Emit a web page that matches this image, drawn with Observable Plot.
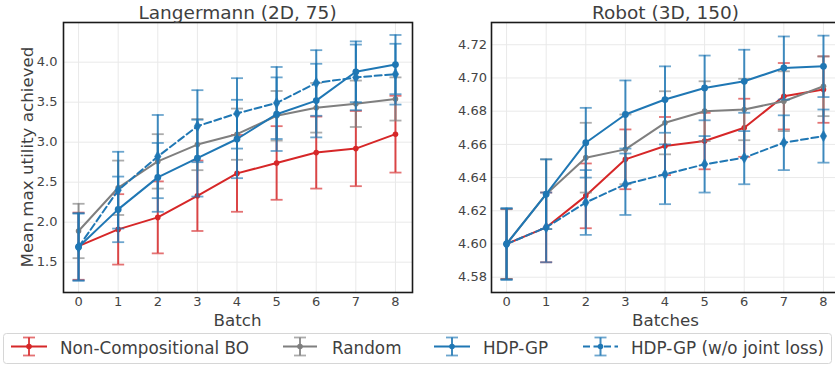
<!DOCTYPE html>
<html>
<head>
<meta charset="utf-8">
<script src="https://cdn.jsdelivr.net/npm/d3@7"></script>
<script src="https://cdn.jsdelivr.net/npm/@observablehq/plot@0.6"></script>
<style>
  html, body { margin: 0; padding: 0; background: #fff; }
  #wrap { position: relative; width: 835px; height: 366px; overflow: hidden; background: #fff; font-family: "DejaVu Sans", sans-serif; }
  #wrap > * { position: absolute; }
</style>
</head>
<body>
<div id="wrap"></div>
<script>
// ---------- data ----------
const batches = [0, 1, 2, 3, 4, 5, 6, 7, 8];

// Langermann (2D, 75)
const langNCBO      = [1.70, 1.91, 2.06, 2.33, 2.61, 2.74, 2.87, 2.92, 3.10];
const langNCBOErr   = [0.42, 0.44, 0.45, 0.44, 0.48, 0.46, 0.45, 0.47, 0.48];
const langRandom    = [1.89, 2.43, 2.76, 2.97, 3.10, 3.33, 3.43, 3.48, 3.54];
const langRandomErr = [0.34, 0.34, 0.34, 0.32, 0.32, 0.31, 0.31, 0.29, 0.27];
const langHDP       = [1.69, 2.16, 2.56, 2.80, 3.04, 3.35, 3.52, 3.88, 3.97];
const langHDPErr    = [0.42, 0.41, 0.43, 0.48, 0.49, 0.46, 0.46, 0.38, 0.37];
const langHDPnj     = [1.69, 2.40, 2.82, 3.20, 3.36, 3.49, 3.74, 3.81, 3.85];
const langHDPnjErr  = [0.42, 0.48, 0.52, 0.45, 0.44, 0.45, 0.41, 0.41, 0.38];
const langYTicks    = [1.5, 2.0, 2.5, 3.0, 3.5, 4.0];

// Robot (3D, 150)
const robNCBO      = [4.600, 4.610, 4.629, 4.651, 4.659, 4.662, 4.670, 4.689, 4.693];
const robNCBOErr   = [0.021, 0.021, 0.0195, 0.018, 0.0175, 0.017, 0.0175, 0.020, 0.020];
const robRandom    = [4.600, 4.630, 4.652, 4.657, 4.673, 4.680, 4.681, 4.686, 4.695];
const robRandomErr = [0.021, 0.021, 0.021, 0.021, 0.019, 0.018, 0.0185, 0.018, 0.018];
const robHDP       = [4.600, 4.630, 4.661, 4.678, 4.687, 4.694, 4.698, 4.706, 4.707];
const robHDPErr    = [0.0215, 0.021, 0.021, 0.0205, 0.020, 0.0195, 0.019, 0.019, 0.0185];
const robHDPnj     = [4.600, 4.610, 4.625, 4.636, 4.642, 4.648, 4.652, 4.661, 4.665];
const robHDPnjErr  = [0.0215, 0.021, 0.0195, 0.0185, 0.018, 0.017, 0.016, 0.0165, 0.016];
const robYTicks    = [4.58, 4.60, 4.62, 4.64, 4.66, 4.68, 4.70, 4.72];

const seriesNames = ["Non-Compositional BO", "Random", "HDP-GP", "HDP-GP (w/o joint loss)"];
const seriesColors = ["#d62728", "#7f7f7f", "#1f77b4", "#1f77b4"];
const seriesDash = [null, null, null, "7,3.5"];

// ---------- helpers ----------
const capSymbol = { draw(ctx) { ctx.moveTo(-6, 0); ctx.lineTo(6, 0); } };

function table(means, errs) {
  return batches.map((b, i) => ({ x: b, y: means[i], lo: means[i] - errs[i], hi: means[i] + errs[i] }));
}

function seriesMarks(data, k) {
  const c = seriesColors[k];
  const dotOpts = k === 3
    ? { symbol: "diamond", r: 3.4, fill: c, stroke: c, strokeWidth: 0.5 }
    : { r: k === 2 ? 3.4 : 2.8, fill: c };
  return [
    Plot.ruleX(data, { x: "x", y1: "lo", y2: "hi", stroke: c, strokeWidth: 2, strokeOpacity: 0.85 }),
    Plot.dot(data, { x: "x", y: "lo", symbol: capSymbol, r: 6, fill: "none", stroke: c, strokeWidth: 1.8, strokeOpacity: 0.65 }),
    Plot.dot(data, { x: "x", y: "hi", symbol: capSymbol, r: 6, fill: "none", stroke: c, strokeWidth: 1.8, strokeOpacity: 0.65 }),
    Plot.line(data, { x: "x", y: "y", stroke: c, strokeWidth: 2, strokeDasharray: seriesDash[k] }),
    Plot.dot(data, { x: "x", y: "y", ...dotOpts })
  ];
}

function panel({ all, yDomain, yTicks, yFmt, marginLeft, marginRight, width, yPad }) {
  return Plot.plot({
    width, height: 330,
    marginLeft, marginRight, marginTop: 22, marginBottom: 38,
    style: { fontFamily: "DejaVu Sans, sans-serif", fontSize: "13px", color: "#444", background: "transparent", overflow: "visible" },
    x: { domain: [-0.38, 8.43] },
    y: { domain: yDomain },
    marks: [
      Plot.gridX(batches, { stroke: "#e9e9e9", strokeOpacity: 1, strokeWidth: 1 }),
      Plot.gridY(yTicks, { stroke: "#e9e9e9", strokeOpacity: 1, strokeWidth: 1 }),
      Plot.axisX(batches, { tickSize: 0, tickPadding: 4.5, tickFormat: d => String(d), label: null, fontSize: 13 }),
      Plot.axisY(yTicks, { tickSize: 0, tickPadding: yPad, tickFormat: yFmt, label: null, fontSize: 13 }),
      ...all.flatMap((d, k) => seriesMarks(d, k)),
      Plot.frame({ stroke: "#1a1a1a", strokeWidth: 1.6 })
    ]
  });
}

const wrap = document.getElementById("wrap");

const left = panel({
  all: [table(langNCBO, langNCBOErr), table(langRandom, langRandomErr), table(langHDP, langHDPErr), table(langHDPnj, langHDPnjErr)],
  yDomain: [1.121, 4.496], yTicks: langYTicks, yFmt: d3.format(".1f"),
  marginLeft: 63, marginRight: 8, width: 420, yPad: 6
});
left.style.left = "0px"; left.style.top = "0px";
wrap.appendChild(left);

const right = panel({
  all: [table(robNCBO, robNCBOErr), table(robRandom, robRandomErr), table(robHDP, robHDPErr), table(robHDPnj, robHDPnjErr)],
  yDomain: [4.5708, 4.7334], yTicks: robYTicks, yFmt: d3.format(".2f"),
  marginLeft: 71, marginRight: 5, width: 425, yPad: 4.5
});
right.style.left = "420px"; right.style.top = "0px";
wrap.appendChild(right);

// ---------- overlay text & legend ----------
const svg = d3.select(wrap).append("svg")
  .attr("width", 835).attr("height", 366)
  .style("left", "0px").style("top", "0px")
  .style("font-family", "DejaVu Sans, sans-serif");

const txt = "#3f3f3f";
svg.append("text").attr("x", 237.5).attr("y", 18.5).attr("text-anchor", "middle")
  .attr("font-size", 18.5).attr("fill", txt).text("Langermann (2D, 75)");
svg.append("text").attr("x", 665.5).attr("y", 18.5).attr("text-anchor", "middle")
  .attr("font-size", 18.5).attr("fill", txt).text("Robot (3D, 150)");
svg.append("text").attr("x", 237.5).attr("y", 325.7).attr("text-anchor", "middle")
  .attr("font-size", 16.7).attr("fill", txt).text("Batch");
svg.append("text").attr("x", 665.5).attr("y", 325.7).attr("text-anchor", "middle")
  .attr("font-size", 16.7).attr("fill", txt).text("Batches");
svg.append("text").attr("transform", "translate(33,157) rotate(-90)").attr("text-anchor", "middle")
  .attr("font-size", 16.7).attr("fill", txt).text("Mean max utility achieved");

// legend
const lg = svg.append("g");
lg.append("rect").attr("x", 3.5).attr("y", 333.5).attr("width", 828).attr("height", 30).attr("rx", 3)
  .attr("fill", "#fff").attr("stroke", "#d6d6d6").attr("stroke-width", 1);
const items = [
  { x0: 11, x1: 47, tx: 60 },
  { x0: 283, x1: 317, tx: 332 },
  { x0: 434, x1: 470, tx: 483 },
  { x0: 583, x1: 618, tx: 631 }
];
items.forEach((it, k) => {
  const c = seriesColors[k];
  const cx = (it.x0 + it.x1) / 2, cy = 346.5;
  const g = lg.append("g");
  g.append("line").attr("x1", it.x0).attr("x2", it.x1).attr("y1", cy).attr("y2", cy)
    .attr("stroke", c).attr("stroke-width", 2).attr("stroke-dasharray", seriesDash[k]);
  g.append("line").attr("x1", cx).attr("x2", cx).attr("y1", 337.5).attr("y2", 355.5)
    .attr("stroke", c).attr("stroke-width", 2).attr("stroke-opacity", 0.85);
  [337.5, 355.5].forEach(yy => g.append("line").attr("x1", cx - 6).attr("x2", cx + 6).attr("y1", yy).attr("y2", yy)
    .attr("stroke", c).attr("stroke-width", 1.8).attr("stroke-opacity", 0.65));
  g.append("circle").attr("cx", cx).attr("cy", cy).attr("r", 2.8).attr("fill", c);
  g.append("text").attr("x", it.tx).attr("y", 353.5).attr("font-size", 16.8).attr("fill", txt).text(seriesNames[k]);
});
</script>
</body>
</html>
